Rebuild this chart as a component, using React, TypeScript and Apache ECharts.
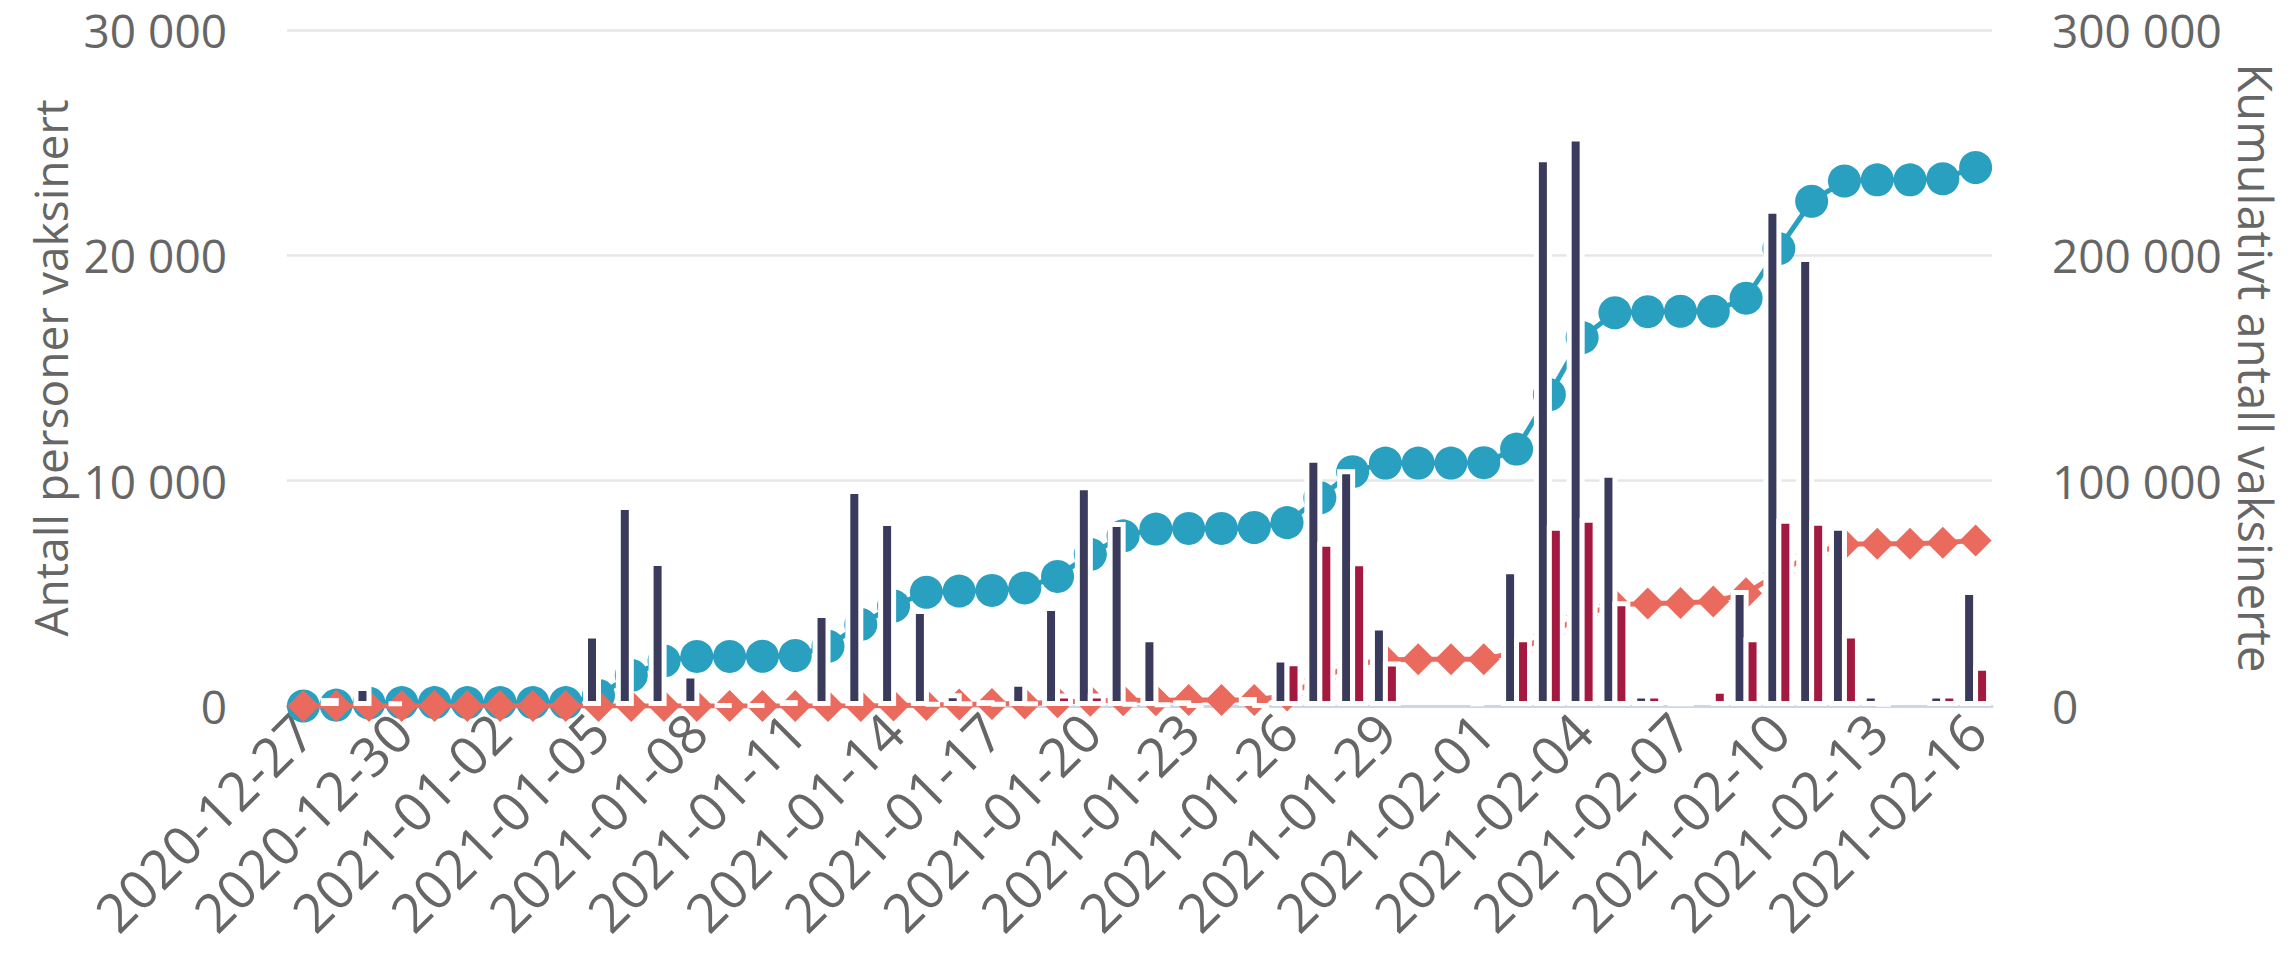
import React, { useEffect, useRef } from "react";
import * as echarts from "echarts";

const dates = [
  "2020-12-27", "2020-12-28", "2020-12-29", "2020-12-30", "2020-12-31",
  "2021-01-01", "2021-01-02", "2021-01-03", "2021-01-04", "2021-01-05",
  "2021-01-06", "2021-01-07", "2021-01-08", "2021-01-09", "2021-01-10",
  "2021-01-11", "2021-01-12", "2021-01-13", "2021-01-14", "2021-01-15",
  "2021-01-16", "2021-01-17", "2021-01-18", "2021-01-19", "2021-01-20",
  "2021-01-21", "2021-01-22", "2021-01-23", "2021-01-24", "2021-01-25",
  "2021-01-26", "2021-01-27", "2021-01-28", "2021-01-29", "2021-01-30",
  "2021-01-31", "2021-02-01", "2021-02-02", "2021-02-03", "2021-02-04",
  "2021-02-05", "2021-02-06", "2021-02-07", "2021-02-08", "2021-02-09",
  "2021-02-10", "2021-02-11", "2021-02-12", "2021-02-13", "2021-02-14",
  "2021-02-15", "2021-02-16",
];

// Daily, first dose (left axis)
const dose1Daily = [
  0, 350, 890, 200, 0, 0, 0, 0, 0, 3215,
  8925, 6440, 1440, 40, 40, 260, 4130, 9635, 8210, 4300,
  565, 260, 1075, 4440, 9795, 8165, 3050, 250, 0, 400,
  2150, 11020, 10510, 3570, 0, 0, 190, 6065, 24350, 25270,
  10350, 560, 200, 0, 5150, 22070, 19930, 8000, 560, 0,
  560, 5150,
];

// Daily, second dose (left axis)
const dose2Daily = [
  0, 0, 0, 0, 0, 0, 0, 0, 0, 0,
  0, 0, 0, 0, 0, 0, 0, 0, 0, 150,
  200, 150, 200, 560, 560, 150, 100, 50, 0, 50,
  1990, 7290, 6420, 1970, 0, 0, 0, 3050, 8000, 8350,
  4650, 560, 200, 770, 3050, 8310, 8220, 3220, 150, 0,
  560, 1790,
];

// Cumulative, first dose (right axis)
const dose1Cumulative = [
  0, 400, 1300, 1500, 1500, 1500, 1500, 1500, 1500, 4700,
  13600, 20000, 22000, 22000, 22100, 22400, 26500, 36200, 44400, 50500,
  51000, 51300, 52400, 57500, 67300, 75500, 78500, 78800, 78800, 79200,
  81400, 92400, 104000, 107800, 107800, 107800, 108000, 114000, 138200, 163500,
  174500, 175000, 175200, 175200, 181000, 203000, 224000, 233000, 233500, 233500,
  234000, 239000,
];

// Cumulative, second dose (right axis)
const dose2Cumulative = [
  0, 0, 0, 0, 0, 0, 0, 0, 0, 0,
  0, 0, 0, 0, 0, 0, 0, 0, 200, 400,
  700, 900, 1100, 1700, 2300, 2500, 2600, 2650, 2650, 2700,
  4700, 12000, 18400, 20400, 20700, 20700, 20800, 23900, 31900, 40200,
  44900, 45500, 45700, 46400, 50000, 59000, 67500, 71800, 72000, 72000,
  72400, 73500,
];

const leftTicks = { min: 0, max: 30000, interval: 10000 };
const rightTicks = { min: 0, max: 300000, interval: 100000 };

const FONT = "'Open Sans', 'Noto Sans', sans-serif";
const TEXT = "#666666";

const fmt = (v: number) => String(v).replace(/\B(?=(\d{3})+(?!\d))/g, " ");
const noZero = (arr: number[]) => arr.map((v) => (v === 0 ? "-" : v));

export default function App() {
  const ref = useRef<HTMLDivElement>(null);
  useEffect(() => {
    if (!ref.current) return;
    const chart = echarts.init(ref.current, undefined, { renderer: "svg" });
    const tickLabel = { formatter: fmt, color: TEXT, fontSize: 46, lineHeight: 46, margin: 60, fontFamily: FONT };
    chart.setOption({
      animation: false,
      backgroundColor: "#ffffff",
      textStyle: { fontFamily: FONT },
      grid: { left: 287, right: 301, top: 30, bottom: 258, containLabel: false },
      xAxis: {
        type: "category",
        data: dates,
        boundaryGap: true,
        axisTick: { show: false },
        axisLine: { lineStyle: { color: "#ccd6eb", width: 3 } },
        axisLabel: {
          rotate: 45,
          interval: 2,
          color: TEXT,
          fontSize: 54,
          fontFamily: FONT,
          margin: 16,
        },
      },
      yAxis: [
        {
          type: "value",
          position: "left",
          ...leftTicks,
          name: "Antall personer vaksinert",
          nameLocation: "middle",
          nameGap: 212,
          nameRotate: 90,
          nameTextStyle: { color: TEXT, fontSize: 46, fontFamily: FONT },
          axisLabel: tickLabel,
          axisLine: { show: false },
          axisTick: { show: false },
          splitLine: { lineStyle: { color: "#e6e6e6", width: 2.5 } },
        },
        {
          type: "value",
          position: "right",
          ...rightTicks,
          name: "Kumulativt antall vaksinerte",
          nameLocation: "middle",
          nameGap: 240,
          nameRotate: -90,
          nameTextStyle: { color: TEXT, fontSize: 47, fontFamily: FONT },
          axisLabel: tickLabel,
          axisLine: { show: false },
          axisTick: { show: false },
          splitLine: { show: false },
        },
      ],
      series: [
        {
          type: "line",
          name: "Kumulativt dose 1",
          yAxisIndex: 1,
          data: dose1Cumulative,
          symbol: "circle",
          symbolSize: 33,
          showAllSymbol: true,
          lineStyle: { color: "#2aa0c1", width: 5 },
          itemStyle: { color: "#2aa0c1" },
          z: 2,
        },
        {
          type: "line",
          name: "Kumulativt dose 2",
          yAxisIndex: 1,
          data: dose2Cumulative,
          symbol: "diamond",
          symbolSize: 32,
          showAllSymbol: true,
          lineStyle: { color: "#ea6b5d", width: 5 },
          itemStyle: { color: "#ea6b5d" },
          z: 3,
        },
        {
          type: "bar",
          name: "Dose 1",
          data: noZero(dose1Daily),
          barWidth: 18,
          barGap: "-28%",
          itemStyle: { color: "#3a3a5c", borderColor: "#ffffff", borderWidth: 5 },
          z: 4,
        },
        {
          type: "bar",
          name: "Dose 2",
          data: noZero(dose2Daily),
          barWidth: 18,
          barGap: "-28%",
          itemStyle: { color: "#a3193f", borderColor: "#ffffff", borderWidth: 5 },
          z: 4,
        },
      ],
    });
    return () => chart.dispose();
  }, []);
  return (
    <div
      ref={ref}
      style={{ position: "fixed", left: 0, top: 0, width: 2293, height: 964, background: "#fff" }}
    />
  );
}
